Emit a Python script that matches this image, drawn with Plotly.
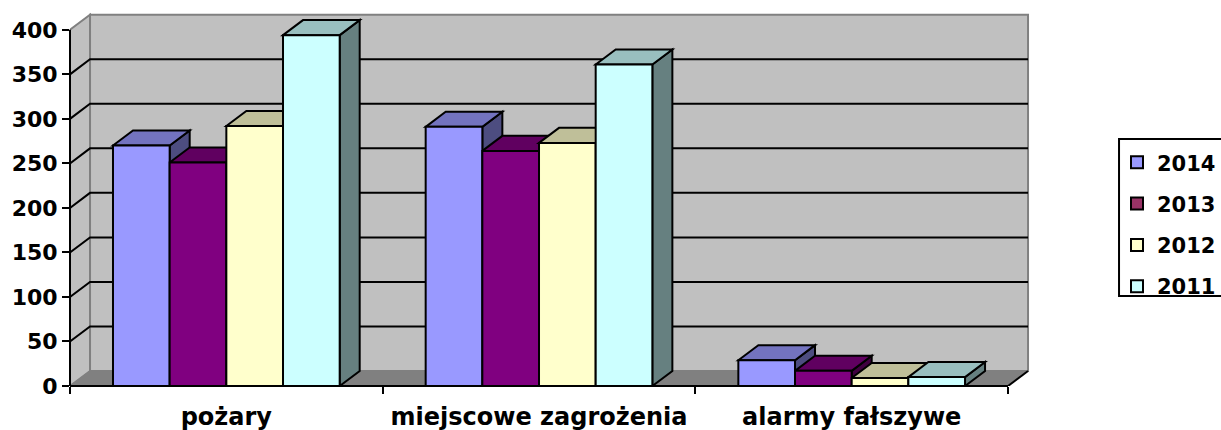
import plotly.graph_objects as go

# ---- data ----
categories = ["pożary", "miejscowe zagrożenia", "alarmy fałszywe"]
series_names = ["2014", "2013", "2012", "2011"]
values_2014 = [270, 291, 29]
values_2013 = [251, 264, 17]
values_2012 = [292, 273, 9]
values_2011 = [394, 361, 10]
y_tick_values = [0, 50, 100, 150, 200, 250, 300, 350, 400]

series_values = [values_2014, values_2013, values_2012, values_2011]

# ---- styles ----
front_colors = ["#9999FF", "#800080", "#FFFFCC", "#CCFFFF"]
top_colors = ["#7373BF", "#600060", "#BFBF99", "#99BFBF"]
side_colors = ["#4D4D80", "#400040", "#808066", "#668080"]
legend_colors = ["#9999FF", "#993366", "#FFFFCC", "#CCFFFF"]

FONT = "DejaVu Sans"
BARGAP = 0.275
DX = 0.064     # 3D depth, in category units
DY = 16.9      # 3D depth, in value units
XMIN = -0.5
XMAX = 2.5735
YMAX = 420
YTOP = y_tick_values[-1]

n_series = len(series_names)
bar_w = (1 - BARGAP) / n_series
x_pos = list(range(len(categories)))
x_last = len(categories) - 0.5

fig = go.Figure()

shapes = []
# back wall
shapes.append(dict(type="rect", xref="x", yref="y", x0=XMIN + DX, x1=x_last + DX,
                   y0=DY, y1=YTOP + DY, fillcolor="#C0C0C0",
                   line=dict(color="#808080", width=2), layer="below"))
# side wall
shapes.append(dict(type="path", xref="x", yref="y",
                   path=f"M{XMIN},0 L{XMIN},{YTOP} L{XMIN + DX},{YTOP + DY} L{XMIN + DX},{DY} Z",
                   fillcolor="#C0C0C0", line=dict(color="#808080", width=2), layer="below"))
# floor
shapes.append(dict(type="path", xref="x", yref="y",
                   path=f"M{XMIN},0 L{XMIN + DX},{DY} L{x_last + DX},{DY} L{x_last},0 Z",
                   fillcolor="#808080", line=dict(color="#808080", width=1), layer="below"))
# floor right edge
shapes.append(dict(type="line", xref="x", yref="y", x0=x_last, y0=0, x1=x_last + DX, y1=DY,
                   line=dict(color="black", width=2), layer="below"))
# gridlines on side + back wall
for v in y_tick_values[1:-1]:
    shapes.append(dict(type="path", xref="x", yref="y",
                       path=f"M{XMIN},{v} L{XMIN + DX},{v + DY} L{x_last + DX},{v + DY}",
                       line=dict(color="black", width=2), layer="below"))

# 3D faces of bars (tops and sides), drawn below the bar fronts
for i, _ in enumerate(categories):
    for j in range(n_series):
        v = series_values[j][i]
        left = i - (1 - BARGAP) / 2 + j * bar_w
        right = left + bar_w
        shapes.append(dict(type="path", xref="x", yref="y",
                           path=f"M{right},0 L{right + DX},{DY} L{right + DX},{v + DY} L{right},{v} Z",
                           fillcolor=side_colors[j], line=dict(color="black", width=2),
                           layer="below"))
        shapes.append(dict(type="path", xref="x", yref="y",
                           path=f"M{left},{v} L{left + DX},{v + DY} L{right + DX},{v + DY} L{right},{v} Z",
                           fillcolor=top_colors[j], line=dict(color="black", width=2),
                           layer="below"))

# axis lines (above)
shapes.append(dict(type="line", xref="paper", yref="y", x0=0, x1=0, y0=0, y1=YTOP,
                   line=dict(color="black", width=2), layer="above"))
shapes.append(dict(type="line", xref="x", yref="paper", x0=XMIN, x1=x_last, y0=0, y1=0,
                   line=dict(color="black", width=2), layer="above"))
# legend frame (right side runs off the picture, as in the reference)
shapes.append(dict(type="rect", xref="paper", yref="paper",
                   x0=1.0916, x1=1.21, y0=0.2406, y1=0.6604,
                   line=dict(color="black", width=2), fillcolor="rgba(0,0,0,0)",
                   layer="above"))

for j, name in enumerate(series_names):
    fig.add_trace(go.Bar(
        x=x_pos, y=series_values[j], name=name, showlegend=False,
        width=bar_w, offset=-(1 - BARGAP) / 2 + j * bar_w,
        marker=dict(color=front_colors[j], line=dict(color="black", width=2)),
    ))
for j, name in enumerate(series_names):
    fig.add_trace(go.Bar(
        x=[None], y=[None], name=name, legendgroup=name, showlegend=True,
        marker=dict(color=legend_colors[j], line=dict(color="black", width=2)),
    ))

fig.update_layout(
    width=1221, height=430,
    margin=dict(l=70, r=190, t=12, b=44, autoexpand=False),
    paper_bgcolor="white", plot_bgcolor="white",
    barmode="overlay",
    shapes=shapes,
    font=dict(family=FONT, color="black"),
    xaxis=dict(range=[XMIN, XMAX], showgrid=False, zeroline=False, showline=False,
               tickvals=x_pos, ticktext=categories, ticks="", automargin=False,
               ticklabelstandoff=14,
               tickfont=dict(family=FONT, size=24, color="black", weight="bold"),
               minor=dict(tickvals=[-0.5, 0.5, 1.5, 2.5], ticks="outside", ticklen=7,
                          tickwidth=2, tickcolor="black", showgrid=False),
               fixedrange=True),
    yaxis=dict(range=[0, YMAX], showgrid=False, zeroline=False, showline=False,
               tickvals=y_tick_values, ticks="outside", ticklen=7, tickwidth=2,
               tickcolor="black", automargin=False,
               tickfont=dict(family=FONT, size=22, color="black", weight="bold"),
               fixedrange=True),
    legend=dict(xref="container", x=1.0, y=0.652, xanchor="right", yanchor="top",
                borderwidth=0, bgcolor="rgba(0,0,0,0)",
                font=dict(family=FONT, size=21, color="black", weight="bold"),
                tracegroupgap=11, traceorder="grouped"),
)

fig.write_html("out.html", config={"displayModeBar": False, "staticPlot": True},
               post_script="document.body.style.margin='0px';")
